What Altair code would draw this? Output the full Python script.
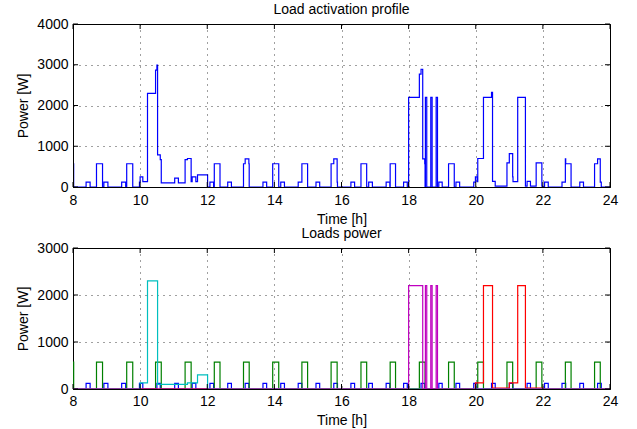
import altair as alt
import numpy as np
import pandas as pd

T_START, T_END = 8.0, 24.0
FONT = "Liberation Sans"

# Fridge compressor cycles [h] and draw [W]
fridge_on = [8.00, 8.70, 9.60, 10.46, 11.34, 12.21, 13.08, 13.95, 14.82, 15.69,
             16.58, 17.45, 18.32, 19.19, 20.06, 20.93, 21.80, 22.67, 23.54]
fridge_off = [8.02, 8.88, 9.78, 10.63, 11.52, 12.38, 13.25, 14.13, 14.99, 15.87,
              16.75, 17.61, 18.49, 19.36, 20.23, 21.10, 21.97, 22.84, 23.71]
fridge_w = 570

# Short periodic load [h] and draw [W]
pulse_on = [8.39, 8.92, 9.45, 9.98, 10.50, 11.03, 11.55, 12.08, 12.61, 13.13,
            13.66, 14.19, 14.71, 15.24, 15.77, 16.28, 16.81, 17.33, 17.85, 18.37,
            18.90, 19.41, 19.94, 20.47, 21.00, 21.53, 22.05, 22.57, 23.10, 23.63]
pulse_off = [8.51, 9.04, 9.57, 10.08, 10.60, 11.14, 11.66, 12.19, 12.72, 13.24,
             13.77, 14.30, 14.82, 15.35, 15.88, 16.39, 16.92, 17.44, 17.96, 18.48,
             19.00, 19.52, 20.04, 20.58, 21.11, 21.63, 22.16, 22.68, 23.21, 23.74]
pulse_w = 120

# Multi-stage loads: switching times [h] and level held from each time [W]
washer_t = [10.00, 10.22, 10.52, 11.41, 11.71, 12.01]
washer_w = [130, 2300, 100, 130, 300, 0]

oven_t = [18.00, 18.42, 18.50, 18.54, 18.66, 18.70, 18.82, 18.86]
oven_w = [2200, 0, 2200, 0, 2200, 0, 2200, 0]

dryer_t = [19.99, 20.23, 20.50, 21.00, 21.25, 21.48, 21.99]
dryer_w = [130, 2200, 20, 130, 2200, 20, 0]

x_ticks = [8, 10, 12, 14, 16, 18, 20, 22, 24]
y_ticks_top = [0, 1000, 2000, 3000, 4000]
y_ticks_bottom = [0, 1000, 2000, 3000]


def from_pulses(starts, ends, level):
    t, w = [], []
    if starts[0] > T_START:
        t.append(T_START); w.append(0)
    for s, e in zip(starts, ends):
        t += [s, e]; w += [level, 0]
    t.append(T_END); w.append(0)
    return pd.DataFrame({"t": t, "w": w})


def from_levels(times, levels):
    t = [T_START] + list(times) + [T_END]
    w = [0] + list(levels) + [0]
    return pd.DataFrame({"t": t, "w": w})


loads = [
    ("pulse", from_pulses(pulse_on, pulse_off, pulse_w), "#0000FF"),
    ("fridge", from_pulses(fridge_on, fridge_off, fridge_w), "#008000"),
    ("dryer", from_levels(dryer_t, dryer_w), "#FF0000"),
    ("washer", from_levels(washer_t, washer_w), "#00BFBF"),
    ("oven", from_levels(oven_t, oven_w), "#BF00BF"),
]

# Aggregate profile: sum of every load's held level at each switching time
grid = np.unique(np.concatenate([d["t"].to_numpy() for _, d, _ in loads]))
total = np.zeros_like(grid)
for _, d, _ in loads:
    tt = d["t"].to_numpy()
    ww = d["w"].to_numpy()
    idx = np.searchsorted(tt, grid, side="right") - 1
    total += ww[idx]
total_df = pd.DataFrame({"t": grid, "w": total})

TICK = 5
W = 537


def axis_x(z, lp, tp):
    return alt.Axis(values=x_ticks, grid=True, ticks=False, labelPadding=lp,
                    titlePadding=tp, gridDash=[1, 5], gridColor="#000000",
                    gridOpacity=0.75, domainColor="#000000", labelFlush=False,
                    zindex=z, title="Time [h]")


def axis_y(vals, z):
    return alt.Axis(values=vals, grid=True, ticks=False, labelPadding=5,
                    titlePadding=6, gridDash=[1, 5], gridColor="#000000",
                    gridOpacity=0.75, domainColor="#000000", format="d",
                    zindex=z, title="Power [W]")


def panel(series, y_max, y_vals, h, title, z, lp, tp):
    xs = alt.Scale(domain=[T_START, T_END], nice=False, zero=False)
    ys = alt.Scale(domain=[0, y_max], nice=False)
    rx = alt.X("t:Q", scale=xs, axis=axis_x(z, lp, tp))
    ry = alt.Y("w:Q", scale=ys, axis=axis_y(y_vals, z))
    layers = []
    for df, color in series:
        layers.append(
            alt.Chart(df).mark_line(interpolate="step-after", color=color,
                                    strokeWidth=1.2, clip=True).encode(x=rx, y=ry)
        )
    xt = pd.DataFrame({"t": x_ticks})
    yt = pd.DataFrame({"w": y_vals})
    # inward tick marks on all four sides of the frame
    layers += [
        alt.Chart(xt).mark_rule(color="black").encode(x=rx, y=alt.value(h), y2=alt.value(h - TICK)),
        alt.Chart(xt).mark_rule(color="black").encode(x=rx, y=alt.value(0), y2=alt.value(TICK)),
        alt.Chart(yt).mark_rule(color="black").encode(y=ry, x=alt.value(0), x2=alt.value(TICK)),
        alt.Chart(yt).mark_rule(color="black").encode(y=ry, x=alt.value(W), x2=alt.value(W - TICK)),
    ]
    return alt.layer(*layers).properties(
        width=W, height=h,
        title=alt.TitleParams(title, fontSize=14, fontWeight="normal", font=FONT,
                              color="black", anchor="middle", offset=0,
                              frame="group"),
    )


top = panel([(total_df, "#0000FF")], 4000, y_ticks_top, 163,
            "Load activation profile", 1, 6, 5)
bottom = panel([(d, c) for _, d, c in loads], 3000, y_ticks_bottom, 141,
               "Loads power", 0, 5, 5)

chart = alt.vconcat(top, bottom, spacing=61, bounds="flush").properties(
    padding={"left": 16, "top": 2, "right": 5, "bottom": 2},
    background="white",
).configure_view(stroke="black", strokeWidth=1).configure_axis(
    labelFont=FONT, titleFont=FONT, labelFontSize=14, titleFontSize=14,
    titleFontWeight="normal", labelColor="black", titleColor="black",
)

chart.save("out.html", embed_options={"renderer": "svg", "actions": False})
